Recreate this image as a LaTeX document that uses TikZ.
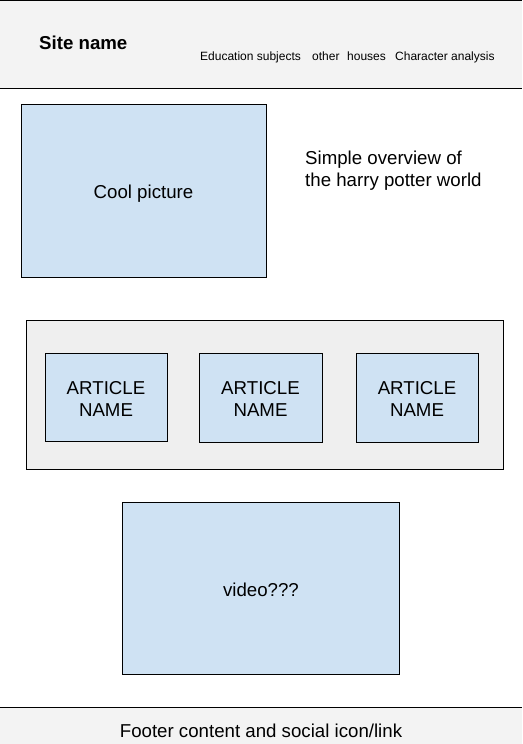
\documentclass[tikz,border=0pt]{standalone}
\usepackage{fontspec}
\setmainfont{Liberation Sans}
\definecolor{boxblue}{HTML}{CFE2F3}
\definecolor{bandgray}{HTML}{F3F3F3}
\definecolor{panelgray}{HTML}{EFEFEF}
\begin{document}
\begin{tikzpicture}[x=1pt,y=-1pt,
  bigtext/.style={font=\fontsize{18.67}{22}\selectfont, inner sep=0pt, text=black},
  navtext/.style={font=\fontsize{12}{14}\selectfont, inner sep=0pt, anchor=base west, text=black},
  bluebox/.style={draw=black, line width=1pt, fill=boxblue, inner sep=0pt},
  arttext/.style={bigtext, align=center},
  panel/.style={draw=black, line width=1pt, fill=panelgray, inner sep=0pt},
  rule/.style={draw=black, line width=1pt}]
\useasboundingbox (0,0) rectangle (522,744);
\fill[white] (0,0) rectangle (522,744);
% header band
\fill[bandgray] (0,0.5) rectangle (522,88);
\coordinate (htl) at (0,0.5); \coordinate (htr) at (522,0.5);
\coordinate (hbl) at (0,88); \coordinate (hbr) at (522,88);
\draw[rule] (htl) -- (htr);
\draw[rule] (hbl) -- (hbr);
\node[bigtext, font=\fontsize{18.67}{22}\selectfont\bfseries, anchor=base west] (site) at (39,49.5) {Site name};
\node[navtext] (nav1) at (200,60) {Education subjects};
\node[navtext] (nav2) at (312,60) {other};
\node[navtext] (nav3) at (347,60) {houses};
\node[navtext] (nav4) at (395,60) {Character analysis};
% cool picture
\node[bluebox, minimum width=245pt, minimum height=173pt] (pic) at (143.5,190.5) {};
\node[bigtext, anchor=base] (pictxt) at ([yshift=-7.5pt]pic.center) {Cool picture};
\node[bigtext, anchor=base west, align=left] (ovw1) at (305,164) {Simple overview of};
\node[bigtext, anchor=base west, align=left] (ovw2) at (305,186) {the harry potter world};
% article panel
\node[panel, minimum width=477pt, minimum height=149pt] (arts) at (264.5,394.5) {};
\node[bluebox, minimum width=122pt, minimum height=88pt] (a1) at (106,397) {};
\node[bluebox, minimum width=123pt, minimum height=89pt] (a2) at (260.5,397.5) {};
\node[bluebox, minimum width=122pt, minimum height=89pt] (a3) at (417,397.5) {};
\node[arttext] (a1t) at ([yshift=-1.5pt]a1.center) {ARTICLE\\NAME};
\node[arttext] (a2t) at ([yshift=-1.2pt]a2.center) {ARTICLE\\NAME};
\node[arttext] (a3t) at ([yshift=-1.2pt]a3.center) {ARTICLE\\NAME};
% video
\node[bluebox, minimum width=277pt, minimum height=172pt] (vid) at (260.75,588) {};
\node[bigtext, anchor=base] (vidtxt) at (261,596) {video???};
% footer
\fill[bandgray] (0,707) rectangle (522,744);
\coordinate (fl) at (0,707); \coordinate (fr) at (522,707);
\draw[rule] (fl) -- (fr);
\node[bigtext, anchor=base] (foot) at (261,737) {Footer content and social icon/link};
\end{tikzpicture}
\end{document}
